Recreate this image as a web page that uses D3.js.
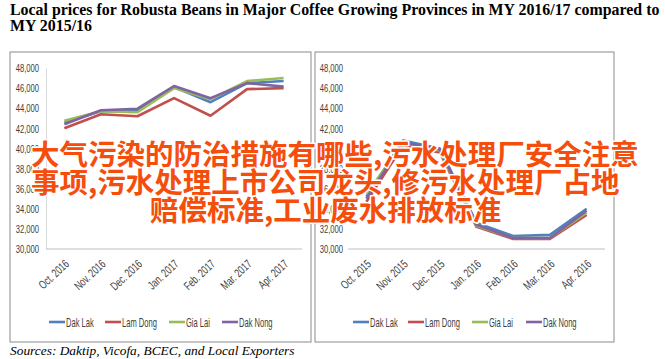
<!DOCTYPE html>
<html><head><meta charset="utf-8">
<script src="https://cdn.jsdelivr.net/npm/d3@7"></script>
<style>
body{margin:0;background:#fff;}
svg{display:block;}
.t{font-family:"Liberation Serif","Times New Roman",serif;}
.ax{font-family:"Liberation Sans",Arial,sans-serif;fill:#404040;}
.ov{font-family:"Noto Sans CJK SC",sans-serif;font-weight:700;fill:#f54e0c;stroke:#fff;stroke-width:3px;paint-order:stroke;stroke-linejoin:round;}
</style></head><body>
<script>
const seriesNames = ["Dak Lak","Lam Dong","Gia Lai","Dak Nong"];
const seriesColors = ["#4F81BD","#C0504D","#9BBB59","#8064A2"];
const months1617 = ["Oct. 2016","Nov. 2016","Dec. 2016","Jan. 2017","Feb. 2017","Mar. 2017","Apr. 2017"];
const months1516 = ["Oct. 2015","Nov. 2015","Dec. 2015","Jan. 2016","Feb. 2016","Mar. 2016","Apr. 2016"];
const dakLak1617  = [42600,43700,43700,46100,44600,46500,46700];
const lamDong1617 = [42000,43400,43200,45000,43250,45900,46000];
const giaLai1617  = [42750,43700,43600,46000,44900,46700,47000];
const dakNong1617 = [42400,43800,43950,46200,45000,46500,46150];
const dakLak1516  = [35200,40800,40000,32600,31300,31400,34000];
const lamDong1516 = [34700,40300,39600,32200,31000,31000,33400];
const giaLai1516  = [35500,40500,39800,32300,31100,31100,33600];
const dakNong1516 = [35000,40600,39900,32400,31100,31100,33800];
const yTicks = [30000,32000,34000,36000,38000,40000,42000,44000,46000,48000];
const titleLines = ["Local prices for Robusta Beans in Major Coffee Growing Provinces in MY 2016/17 compared to","MY 2015/16"];
const sourceText = "Sources: Daktip, Vicofa, BCEC, and Local Exporters";
const overlayLines = ["大气污染的防治措施有哪些,污水处理厂安全注意","事项,污水处理上市公司龙头,修污水处理厂占地","赔偿标准,工业废水排放标准"];

const W=665,H=359;
const svg=d3.select("body").append("svg").attr("width",W).attr("height",H);

svg.append("g").selectAll("text").data(titleLines).join("text")
  .attr("class","t").attr("x",10).attr("y",(d,i)=>14.5+i*16)
  .attr("font-weight","bold").attr("font-size","15.9px").attr("fill","#000").text(d=>d);

function panel(opts){
  const g=svg.append("g");
  g.append("rect").attr("x",opts.bx).attr("y",52).attr("width",opts.bw).attr("height",290)
    .attr("fill","#fff").attr("stroke","#8c8c8c").attr("stroke-width",1);
  const x=d3.scalePoint().domain(opts.cats).range([opts.x0+18.4,opts.x1-18.4]);
  const y=d3.scaleLinear().domain([30000,48000]).range([249,68]);
  const ya=g.append("g").attr("transform",`translate(${opts.x0},0)`)
    .call(d3.axisLeft(y).tickValues(yTicks).tickFormat(d3.format(",")).tickSize(0));
  ya.attr("font-family",null).attr("font-size",null);
  ya.select(".domain").attr("stroke",opts.yLine?"#d9d9d9":"none");
  ya.selectAll("text").attr("class","ax").attr("font-size","10.6px").attr("x",0).attr("dy","0.35em")
    .attr("text-anchor","end").attr("transform",`translate(${-opts.pad},0) scale(0.72,1)`);
  const xa=g.append("g").attr("transform","translate(0,249)")
    .call(d3.axisBottom(x).tickSize(0).tickPadding(0));
  xa.attr("font-family",null).attr("font-size",null);
  xa.select(".domain").attr("stroke","#bfbfbf").attr("d",`M${opts.x0},0H${opts.x1}`);
  xa.selectAll("text").attr("class","ax").attr("font-size","12px")
    .attr("text-anchor","end").attr("dy",null).attr("y",0)
    .attr("transform","translate(5,16) rotate(-43) scale(0.7,1)");
  const line=d3.line().x((d,i)=>x(opts.cats[i])).y(d=>y(d));
  opts.data.forEach((s,k)=>{
    g.append("path").attr("d",line(s)).attr("fill","none")
      .attr("stroke",seriesColors[k]).attr("stroke-width",2.6).attr("stroke-linejoin","round");
  });
  const lg=g.append("g");
  seriesNames.forEach((n,k)=>{
    const lx=opts.legX[k];
    lg.append("line").attr("x1",lx).attr("x2",lx+16).attr("y1",322).attr("y2",322)
      .attr("stroke",seriesColors[k]).attr("stroke-width",2.6);
    lg.append("text").attr("class","ax").attr("font-size","12px")
      .attr("transform",`translate(${lx+17},326.5) scale(0.63,1)`).text(n);
  });
}
panel({bx:10,bw:301,x0:46,x1:302,pad:7,yLine:true,cats:months1617,
  data:[dakLak1617,lamDong1617,giaLai1617,dakNong1617],legX:[49,105,169,222]});
panel({bx:315,bw:299,x0:348,x1:605,pad:5,yLine:false,cats:months1516,
  data:[dakLak1516,lamDong1516,giaLai1516,dakNong1516],legX:[353,408,472,526]});

svg.append("text").attr("class","t").attr("x",10).attr("y",355)
  .attr("font-style","italic").attr("font-size","13.4px").attr("fill","#000").text(sourceText);

const ovX=[31,31,150];
svg.append("g").selectAll("text").data(overlayLines).join("text")
  .attr("class","ov").attr("x",(d,i)=>ovX[i]).attr("y",(d,i)=>165+i*28)
  .attr("font-size","28.5px").text(d=>d);
</script>
</body></html>
